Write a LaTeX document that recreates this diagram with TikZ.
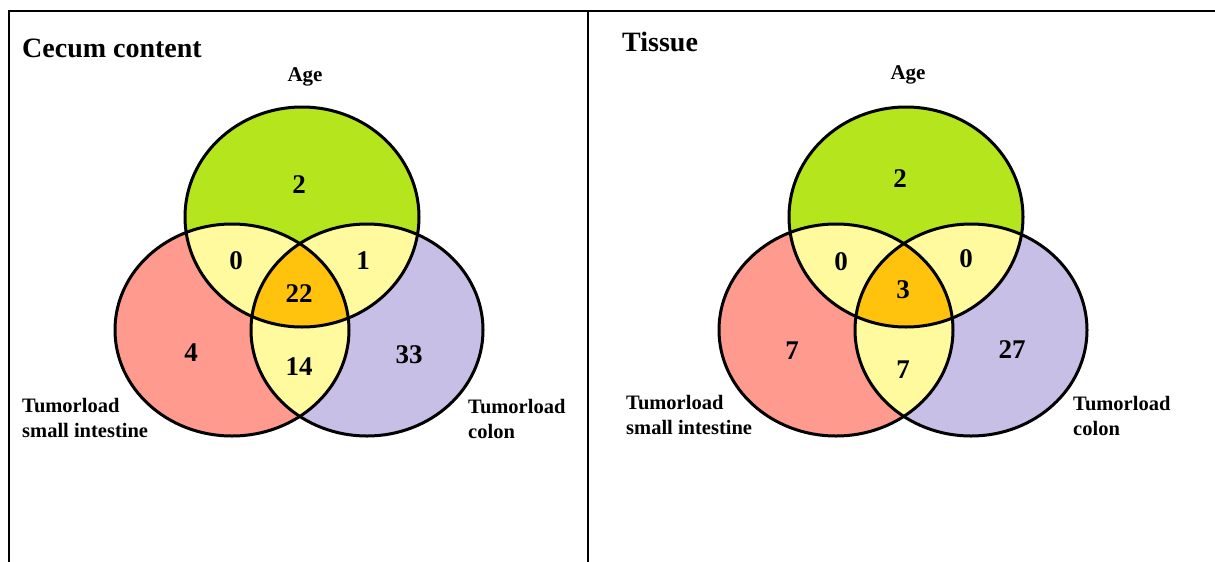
\documentclass[tikz,border=0pt]{standalone}
\usepackage{fontspec}
\setmainfont{Liberation Serif}
\definecolor{agegreen}{HTML}{B5E61D}
\definecolor{redsal}{HTML}{FF9A8F}
\definecolor{bluelav}{HTML}{C8BFE6}
\definecolor{venyellow}{HTML}{FFFA9E}
\definecolor{venorange}{HTML}{FFC30E}
\newcommand\agepath{(302,217) ellipse [x radius=117pt, y radius=110pt]}
\newcommand\redpath{(232,330) ellipse [x radius=117pt, y radius=106pt]}
\newcommand\bluepath{(367,330) ellipse [x radius=116pt, y radius=106pt]}
\newcommand\drawvenn{%
  \fill[agegreen] \agepath;
  \fill[redsal] \redpath;
  \fill[bluelav] \bluepath;
  \begin{scope}\clip \agepath; \fill[venyellow] \redpath; \fill[venyellow] \bluepath;\end{scope}
  \begin{scope}\clip \redpath; \fill[venyellow] \bluepath;\end{scope}
  \begin{scope}\clip \agepath; \clip \redpath; \fill[venorange] \bluepath;\end{scope}
  \draw[vennline] \agepath;
  \draw[vennline] \redpath;
  \draw[vennline] \bluepath;}
\begin{document}
\begin{tikzpicture}[x=1pt,y=-1pt,
  vennline/.style={line width=3pt,draw=black},
  frame/.style={line width=2pt,draw=black},
  numlabel/.style={font=\fontsize{27}{32}\selectfont\bfseries,inner sep=0pt},
  setlabel/.style={font=\fontsize{20.5}{25}\selectfont\bfseries,inner sep=0pt,align=left,anchor=west},
  agelabel/.style={font=\fontsize{21}{25}\selectfont\bfseries,inner sep=0pt},
  titlelabel/.style={font=\fontsize{28}{32}\selectfont\bfseries,inner sep=0pt,anchor=west}]
\useasboundingbox (0,0) rectangle (1215,562);
\fill[white] (0,0) rectangle (1215,562);
% frame
\draw[frame] (8,11) -- (1215,11);
\draw[frame] (9,11) -- (9,562);
\draw[frame] (588,11) -- (588,562);
% diagrams
\drawvenn
\begin{scope}[xshift=604pt]\drawvenn\end{scope}
% left texts
\node[titlelabel] (t1) at (22,48) {Cecum content};
\node[agelabel] (age1) at (305,77) {Age};
\node[numlabel] (a1) at (299,185) {2};
\node[numlabel] (ar1) at (236,261) {0};
\node[numlabel] (ab1) at (363,261) {1};
\node[numlabel] (arb1) at (299,294) {22};
\node[numlabel] (r1) at (191,353) {4};
\node[numlabel] (rb1) at (299,367) {14};
\node[numlabel] (b1) at (409,355) {33};
\node[setlabel] (si1) at (22,418) {Tumorload\\small intestine};
\node[setlabel] (co1) at (468,419) {Tumorload\\colon};
% right texts
\node[titlelabel] (t2) at (622,42) {Tissue};
\node[agelabel] (age2) at (908,75) {Age};
\node[numlabel] (a2) at (900,179) {2};
\node[numlabel] (ar2) at (841,262) {0};
\node[numlabel] (ab2) at (966,259) {0};
\node[numlabel] (arb2) at (903,290) {3};
\node[numlabel] (r2) at (792,351) {7};
\node[numlabel] (rb2) at (903,370) {7};
\node[numlabel] (b2) at (1012,350) {27};
\node[setlabel] (si2) at (626,415) {Tumorload\\small intestine};
\node[setlabel] (co2) at (1073,416) {Tumorload\\colon};
\end{tikzpicture}
\end{document}
